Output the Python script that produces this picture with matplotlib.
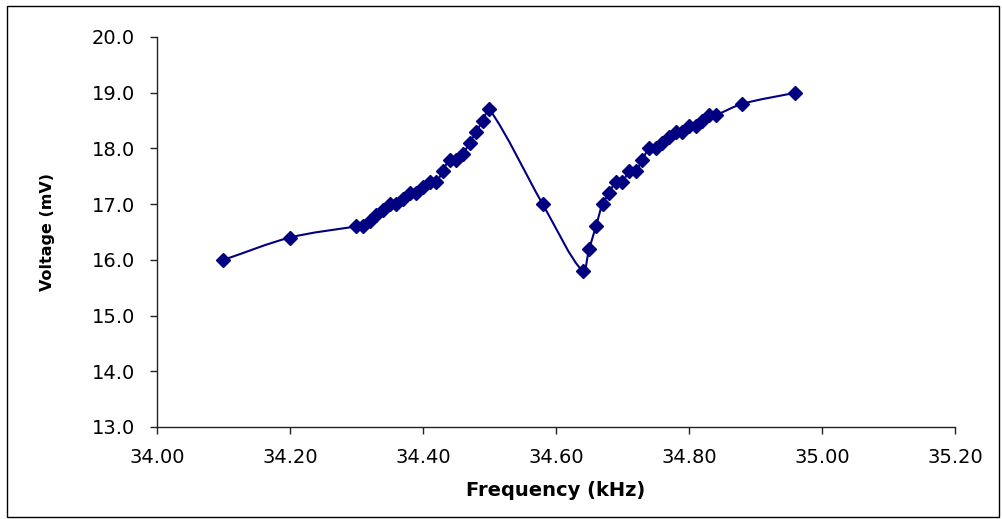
import matplotlib
matplotlib.use("Agg")
import matplotlib.pyplot as plt
import numpy as np
from matplotlib.path import Path
from matplotlib.patches import PathPatch, Rectangle
from matplotlib.ticker import FormatStrFormatter

# Data
freq_khz = [34.10, 34.20, 34.30, 34.31, 34.32, 34.33, 34.34, 34.35, 34.36, 34.37,
            34.38, 34.39, 34.40, 34.41, 34.42, 34.43, 34.44, 34.45, 34.46, 34.47,
            34.48, 34.49, 34.50, 34.58, 34.64, 34.65, 34.66, 34.67, 34.68, 34.69,
            34.70, 34.71, 34.72, 34.73, 34.74, 34.75, 34.76, 34.77, 34.78, 34.79,
            34.80, 34.81, 34.82, 34.83, 34.84, 34.88, 34.96]
voltage_mv = [16.0, 16.4, 16.6, 16.6, 16.7, 16.8, 16.9, 17.0, 17.0, 17.1,
              17.2, 17.2, 17.3, 17.4, 17.4, 17.6, 17.8, 17.8, 17.9, 18.1,
              18.3, 18.5, 18.7, 17.0, 15.8, 16.2, 16.6, 17.0, 17.2, 17.4,
              17.4, 17.6, 17.6, 17.8, 18.0, 18.0, 18.1, 18.2, 18.3, 18.3,
              18.4, 18.4, 18.5, 18.6, 18.6, 18.8, 19.0]
x_ticks = [34.00, 34.20, 34.40, 34.60, 34.80, 35.00, 35.20]
y_ticks = [13.0, 14.0, 15.0, 16.0, 17.0, 18.0, 19.0, 20.0]

navy = "#000080"

fig = plt.figure(figsize=(10.02, 5.19), dpi=100)
fig.patch.set_facecolor("white")
ax = fig.add_axes([157/1002, 1-427/519, (955-157)/1002, (427-37)/519])
ax.set_xlim(34.0, 35.2)
ax.set_ylim(13.0, 20.0)

# Smoothed line: Bezier segments through the data points (spreadsheet-style smooth line),
# tangents weighted by on-screen segment lengths to avoid overshoot.
pts = np.column_stack([freq_khz, voltage_mv])
scr = ax.transData.transform(pts)
n = len(pts)
verts = [pts[0]]
codes = [Path.MOVETO]
t = 1.0 / 3.0
for i in range(n - 1):
    i0 = max(i - 1, 0)
    i3 = min(i + 2, n - 1)
    s0, s1, s2, s3 = scr[i0], scr[i], scr[i + 1], scr[i3]
    d01 = np.hypot(*(s1 - s0))
    d12 = np.hypot(*(s2 - s1))
    d23 = np.hypot(*(s3 - s2))
    f1 = t * d12 / (d01 + d12) if (d01 + d12) > 0 else 0.0
    f2 = t * d12 / (d12 + d23) if (d12 + d23) > 0 else 0.0
    c1 = s1 + (s2 - s0) * f1
    c2 = s2 - (s3 - s1) * f2
    inv = ax.transData.inverted()
    verts += [inv.transform(c1), inv.transform(c2), pts[i + 1]]
    codes += [Path.CURVE4] * 3
path = Path(np.array(verts), codes)
ax.add_patch(PathPatch(path, facecolor="none", edgecolor=navy, lw=1.5, zorder=2))

ax.plot(freq_khz, voltage_mv, linestyle="none", marker="D", markersize=7,
        color=navy, markeredgecolor=navy, zorder=3)

ax.set_xticks(x_ticks)
ax.set_yticks(y_ticks)
ax.xaxis.set_major_formatter(FormatStrFormatter("%.2f"))
ax.yaxis.set_major_formatter(FormatStrFormatter("%.1f"))
for s in ["top", "right"]:
    ax.spines[s].set_visible(False)
for s in ["left", "bottom"]:
    ax.spines[s].set_color("#222222")
    ax.spines[s].set_linewidth(1.0)
ax.tick_params(axis="both", direction="out", length=5, width=1.0, color="#222222",
               labelsize=14, labelcolor="black")
ax.tick_params(axis="x", pad=10)
ax.tick_params(axis="y", pad=11)

ax.set_xlabel("Frequency (kHz)", fontsize=14, fontweight="bold", labelpad=10)
ax.set_ylabel("Voltage (mV)", fontsize=11.5, fontweight="bold", labelpad=26)

fig.patches.append(Rectangle((7/1002, 2/519), (999-7)/1002, (513-2)/519,
                             transform=fig.transFigure, fill=False,
                             edgecolor="black", lw=1.0))

fig.savefig("out.png", dpi=100, facecolor="white")
